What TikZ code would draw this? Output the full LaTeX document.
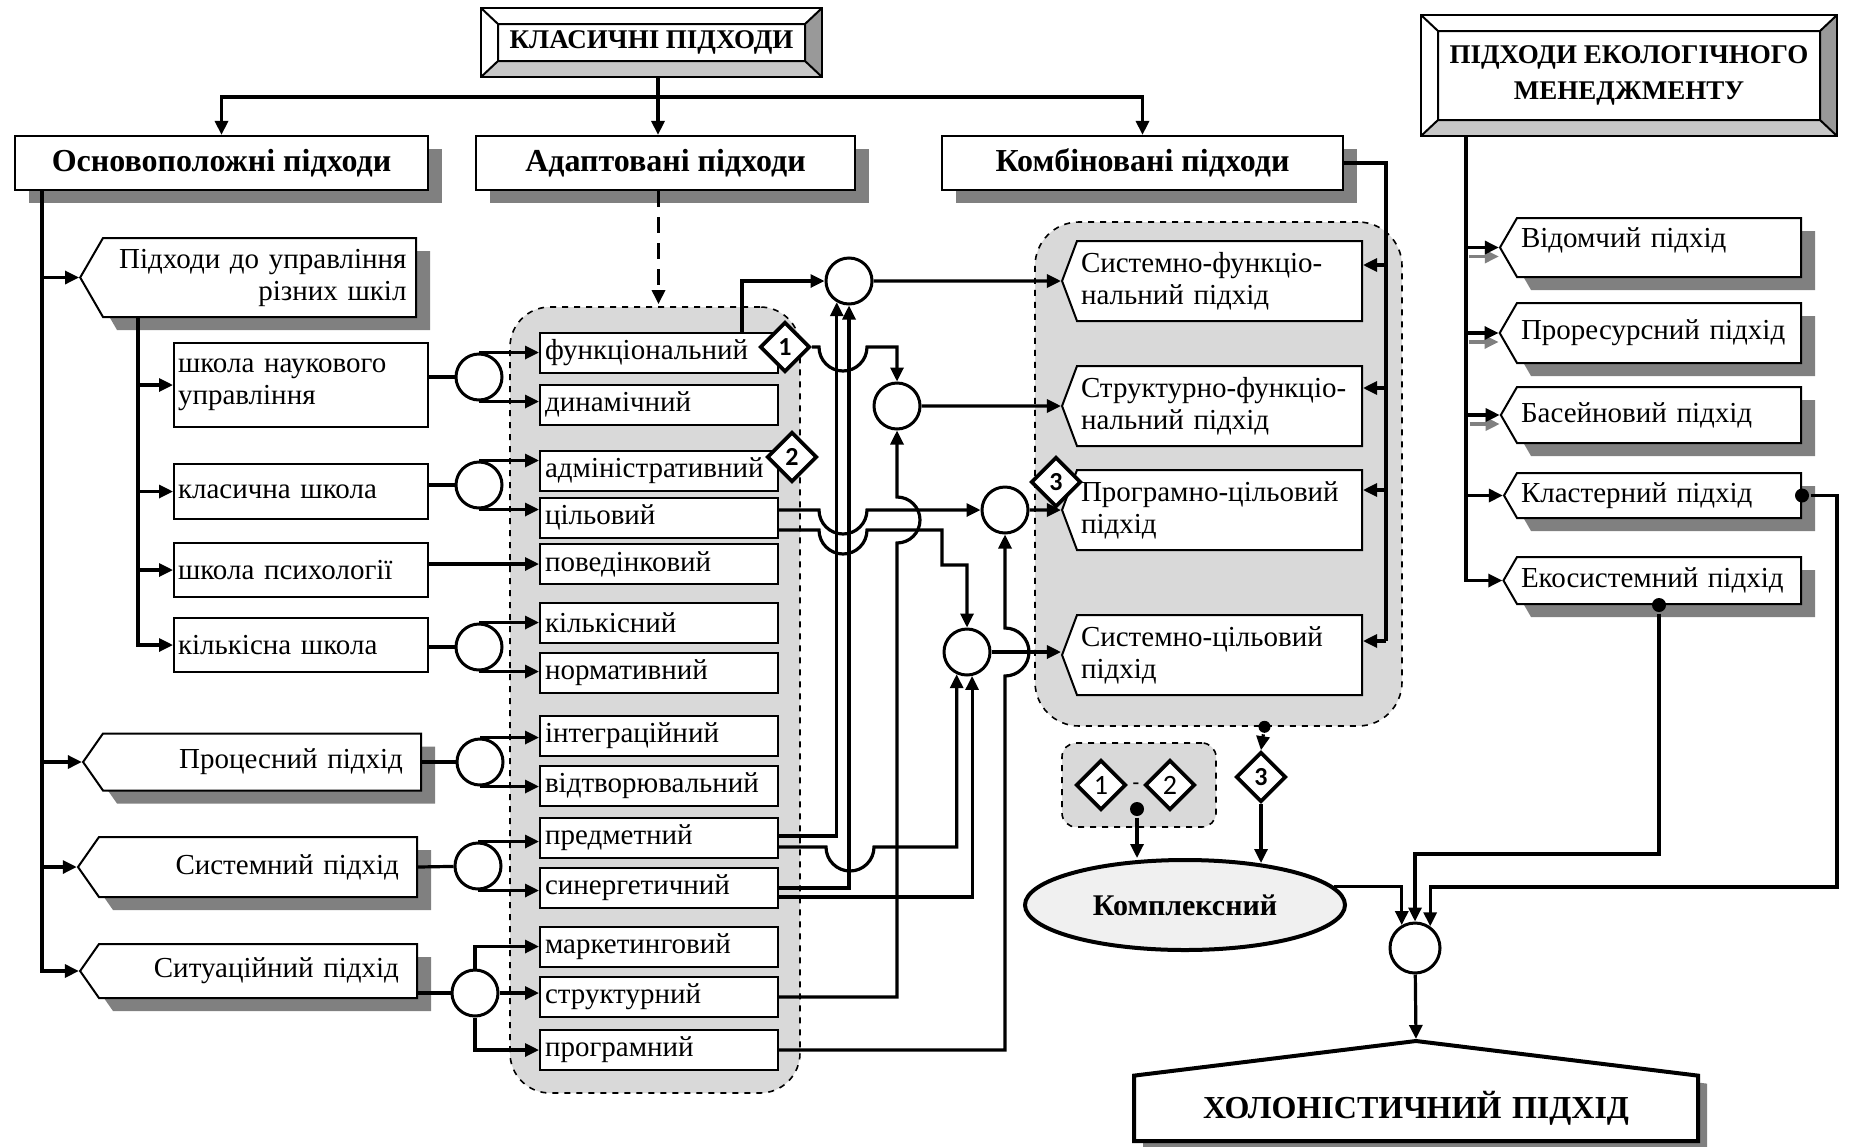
\documentclass[tikz,border=0pt]{standalone}
\usepackage{fontspec}
\setmainfont{Liberation Serif}
\newfontfamily\digitfont{Carlito}
\usepackage{tikz}
\usetikzlibrary{arrows.meta,calc,positioning,shapes.geometric,shapes.symbols,shadows}
\tikzset{%
	grayshadow/.style = {drop shadow={opacity=1, fill=black!50, shadow xshift=7pt, shadow yshift=-6.5pt}},
	bevel/.style      = {draw, rectangle, fill=white, line width=1pt, align=center,
		font=\bfseries\fontsize{13.5}{18}\selectfont,
		path picture={
			\coordinate (bvA) at (path picture bounding box.south west);
			\coordinate (bvB) at (path picture bounding box.north east);
			\coordinate (bvC) at ([shift={(8.5pt,8pt)}]bvA);
			\coordinate (bvD) at ([shift={(-8.5pt,-8pt)}]bvB);
			\fill[black!22] (bvA) -- (bvC) -- (bvC -| bvD) -- (bvA -| bvB) -- cycle;
			\fill[black!40] (bvA -| bvB) -- (bvC -| bvD) -- (bvD) -- (bvB) -- cycle;
			\draw[line width=1pt] (bvC) rectangle (bvD) (bvA) -- (bvC) (bvB) -- (bvD)
				(bvA |- bvB) -- (bvC |- bvD) (bvA -| bvB) -- (bvC -| bvD);
		}},
	block/.style      = {draw, rectangle, fill=white, line width=1.1pt, minimum height=27pt, font=\bfseries\fontsize{16}{18}\selectfont, grayshadow},
	school/.style     = {draw, rectangle, fill=white, line width=1pt, minimum width=127pt, text width=123pt, inner xsep=2pt, align=left},
	sbox/.style       = {draw, rectangle, fill=white, line width=1pt, minimum height=20pt, text width=114pt, inner xsep=2.5pt, inner ysep=0pt, align=left},
	joint/.style      = {draw, circle, fill=white, line width=1.5pt, minimum size=23pt, inner sep=0pt},
	lpent/.style      = {draw, signal, signal to=west, signal pointer angle=110, fill=white, line width=1pt, text width=141pt, inner xsep=9pt, minimum height=28.5pt, align=right, grayshadow},
	kpent/.style      = {draw, signal, signal to=west, signal pointer angle=139, fill=white, line width=1pt, text width=138.5pt, inner xsep=2pt, minimum height=40pt, align=left},
	epent/.style      = {draw, signal, signal to=west, signal pointer angle=120, fill=white, line width=1pt, text width=138pt, inner xsep=2pt, align=left, font=\fontsize{14.5}{16}\selectfont, grayshadow},
	hol/.style        = {draw, signal, signal to=north, signal pointer angle=166, fill=white, line width=2pt, text width=264pt, inner xsep=9pt, minimum height=50pt, align=center,
		font=\bfseries\fontsize{16}{18}\selectfont, drop shadow={opacity=1, fill=black!50, shadow xshift=4.5pt, shadow yshift=-4pt}},
	badge/.style      = {draw, diamond, fill=white, line width=1.8pt, minimum width=25pt, minimum height=25pt, inner sep=0pt, font=\digitfont\bfseries\fontsize{13}{13}\selectfont},
	dashgroup/.style  = {draw, dashed, fill=black!15, line width=0.8pt, rounded corners=20pt},
	blob/.style       = {circle, fill=black, minimum size=7pt, inner sep=0pt},
}

\begin{document}
\begin{tikzpicture}[x=0.5pt, y=-0.5pt, >={Triangle[length=7pt,width=6.5pt]}, line width=1.6pt, font=\fontsize{14.5}{16}\selectfont]
	\useasboundingbox (0,0) rectangle (1852,1146);
	% grey groups
	\node [dashgroup, minimum width=145pt, minimum height=393pt] (agrp) at (655,700) {};
	\node [dashgroup, minimum width=183.5pt, minimum height=252pt, rounded corners=22pt] (kgrp) at (1218.5,474) {};
	\node [dashgroup, minimum width=77pt, minimum height=42pt, rounded corners=7pt] (tgrp) at (1139,785) {};
	
	% headings
	\node [bevel, minimum width=170.5pt, minimum height=34.5pt] (klas) at (651.5,42.5) {КЛАСИЧНІ ПІДХОДИ};
	\node [bevel, minimum width=208pt, minimum height=60.5pt] (ekol) at (1629,75.5) {ПІДХОДИ ЕКОЛОГІЧНОГО\\МЕНЕДЖМЕНТУ};
	\node [block, minimum width=206.5pt] (osn) at (221.5,163) {Основоположні підходи};
	\node [block, minimum width=189.5pt] (adap) at (665.5,163) {Адаптовані підходи};
	\node [block, minimum width=200.5pt] (komb) at (1142.5,163) {Комбіновані підходи};
	
	% left column
	\node [lpent, signal pointer angle=120, minimum height=39.5pt, text width=147pt, inner xsep=4.75pt, anchor=east] (schools) at (417,277.5) {Підходи до управління\\різних шкіл};
	\node [school, minimum height=42pt] (sci) at (301,385) {школа наукового\\управління};
	\node [school, minimum height=27.5pt] (cls) at (301,491.5) {класична школа};
	\node [school, minimum height=27pt] (psy) at (301,570) {школа психології};
	\node [school, minimum height=27pt] (qnt) at (301,645) {кількісна школа};
	\node [lpent, anchor=east] (proc) at (422,762) {Процесний підхід};
	\node [lpent, minimum height=30pt, anchor=east] (sys) at (418,867) {Системний підхід};
	\node [lpent, minimum height=27pt, anchor=east] (sit) at (418,971) {Ситуаційний підхід};
	
	% adapted approaches
	\node [sbox] (func) at (659,353) {функціональний};
	\node [sbox] (dyn) at (659,404.5) {динамічний};
	\node [sbox] (adm) at (659,471) {адміністративний};
	\node [sbox] (cil) at (659,517.5) {цільовий};
	\node [sbox] (pov) at (659,564) {поведінковий};
	\node [sbox] (kil) at (659,622.5) {кількісний};
	\node [sbox] (nor) at (659,673) {нормативний};
	\node [sbox] (integ) at (659,735.5) {інтеграційний};
	\node [sbox] (vidt) at (659,786) {відтворювальний};
	\node [sbox] (pre) at (659,838) {предметний};
	\node [sbox] (syn) at (659,888) {синергетичний};
	\node [sbox] (mar) at (659,946.5) {маркетинговий};
	\node [sbox] (str) at (659,997) {структурний};
	\node [sbox] (prg) at (659,1050) {програмний};
	
	\node [joint] (s1) at (479,377) {};
	\node [joint] (s2) at (479,485) {};
	\node [joint] (s3) at (479,647) {};
	\node [joint] (s4) at (480,762) {};
	\node [joint] (s5) at (478,866) {};
	\node [joint] (s6) at (475,993) {};
	
	\node [joint] (c1) at (849,281) {};
	\node [joint] (c2) at (897,406) {};
	\node [joint] (c3) at (1005,510) {};
	\node [joint] (c4) at (967,652) {};
	\node [joint, minimum size=25pt] (c5) at (1415,948) {};
	
	% combined approaches
	\node [kpent, anchor=east] (sf) at (1363,281) {Системно-функціо-\\нальний підхід};
	\node [kpent, anchor=east] (stf) at (1363,406) {Структурно-функціо-\\нальний підхід};
	\node [kpent, anchor=east] (pc) at (1363,510) {Програмно-цільовий\\підхід};
	\node [kpent, anchor=east] (sc) at (1363,655) {Системно-цільовий\\підхід};
	
	% ecological approaches
	\node [epent, minimum height=29.5pt, text depth=10pt, anchor=east] (vidom) at (1802,247.5) {Відомчий підхід};
	\node [epent, minimum height=30pt, anchor=east] (pror) at (1802,333) {Проресурсний підхід};
	\node [epent, minimum height=28pt, anchor=east] (bas) at (1802,415) {Басейновий підхід};
	\node [epent, minimum height=22.5pt, anchor=east] (klast) at (1802,495.5) {Кластерний підхід};
	\node [epent, minimum height=23.5pt, anchor=east] (ekos) at (1802,580.5) {Екосистемний підхід};
	
	\node [draw, ellipse, fill=black!6, line width=2pt, minimum width=160pt, minimum height=45pt, inner sep=0pt, font=\bfseries\fontsize{15}{17}\selectfont] (kom) at (1185,905) {Комплексний};
	\node [hol, anchor=south] (hol) at (1416,1143) {ХОЛОНІСТИЧНИЙ ПІДХІД};
	
	% markers
	\node [badge] (d1) at (785,347) {1};
	\node [badge] (d2) at (792,457) {2};
	\node [badge] (d3) at (1056,482) {3};
	\node [badge] (d3b) at (1261,777) {3};
	\node [badge, font=\digitfont\fontsize{14}{14}\selectfont] (e1) at (1101,785) {1};
	\node [badge, font=\digitfont\fontsize{14}{14}\selectfont] (e2) at (1170,785) {2};
	\node [font=\bfseries] (sep) at (1136,786) {-};
	\node [blob, minimum size=6pt] (kdot) at ([xshift=23pt]kgrp.south) {};
	\node [blob] (tdot) at (1137,809) {};
	\node [blob] (ldot) at (klast.east) {};
	\node [blob] (edot) at (ekos.south) {};
	
	% top level
	\coordinate (hub) at (658,97);
	\draw (klas.south -| hub) -- (hub);
	\draw[->] (hub) -| (osn.north);
	\draw[->] (hub) -- (hub |- adap.north);
	\draw[->] (hub) -| (komb.north);
	\draw[->, dash pattern=on 8pt off 5pt] ([xshift=-3.5pt]adap.south) -- ++(0,113);
	
	% left trunk
	\coordinate (lt) at ([xshift=14pt]osn.south west);
	\draw[->] (lt) |- (sit.west);
	\draw[->] (lt |- schools.west) -- (schools.west);
	\draw[->] (lt |- proc.west) -- (proc.west);
	\draw[->] (lt |- sys.west) -- (sys.west);
	\coordinate (st) at (schools.south -| 138,0);
	\draw[->] (st) |- (qnt.west);
	\draw[->] (st |- sci.west) -- (sci.west);
	\draw[->] (st |- cls.west) -- (cls.west);
	\draw[->] (st |- psy.west) -- (psy.west);
	
	% schools to adapted approaches
	\draw (s1 -| sci.east) -- (s1);
	\draw[->] (s1.north) -- (s1.north -| func.west);
	\draw[->] (s1.south) -- (s1.south -| dyn.west);
	\draw (s2 -| cls.east) -- (s2);
	\draw[->] (s2.north) -- (s2.north -| adm.west);
	\draw[->] (s2.south) -- (s2.south -| cil.west);
	\draw[->] (psy.east |- pov) -- (pov.west);
	\draw (s3 -| qnt.east) -- (s3);
	\draw[->] (s3.north) -- (s3.north -| kil.west);
	\draw[->] (s3.south) -- (s3.south -| nor.west);
	\draw (proc.east) -- (s4);
	\draw[->] (s4.north) -- (s4.north -| integ.west);
	\draw[->] (s4.south) -- (s4.south -| vidt.west);
	\draw (sys.east) -- (s5);
	\draw[->] (s5.north) -- (s5.north -| pre.west);
	\draw[->] (s5.south) -- (s5.south -| syn.west);
	\draw (s6 -| sit.east) -- (s6);
	\draw[->] (s6.north) |- (mar.west);
	\draw[->] (s6.east) -- (s6 -| str.west);
	\draw[->] (s6.south) |- (prg.west);
	
	% crossing wires
	\draw[->] ([xshift=-18.5pt]func.north east) |- (c1);
	\draw[->] (d1.east) -- (819,347) arc[start angle=180, end angle=0, radius=24] -| (c2.north);
	\draw[->] ([yshift=3.75pt]cil.east) -- (819,510) arc[start angle=180, end angle=0, radius=24] -- (c3);
	\draw[->] ([yshift=-6.25pt]cil.east) -- (819,530) arc[start angle=180, end angle=0, radius=24] -- (942,530) -- (942,565) -| (c4.north);
	\draw[->] ([yshift=1pt]pre.east) -| (c1.240);
	\draw[->] (syn.east) -| (c1.south);
	\draw[->] ([yshift=-4.5pt]pre.east) -- (826,847) arc[start angle=180, end angle=0, radius=24] -| (c4.245);
	\draw[->] ([yshift=-4.5pt]syn.east) -| (c4.282);
	\draw[->] (str.east) -| (897,543) arc[start angle=90, end angle=-90, radius=23] -- (c2.south);
	\draw[->] (prg.east) -| (1005,676) arc[start angle=90, end angle=-90, radius=24] -- (c3.south);
	
	\draw[->] (c1) -- (sf);
	\draw[->] (c2) -- (stf);
	\draw[->] (c3) -- (pc);
	\draw[->] (c4.east) -- (c4.east -| sc.west);
	
	% combined rail
	\coordinate (kr) at (1386,163);
	\coordinate (sfin) at ([yshift=8pt]sf.east);
	\coordinate (stfin) at ([yshift=9pt]stf.east);
	\coordinate (pcin) at ([yshift=10pt]pc.east);
	\coordinate (scin) at ([yshift=7pt]sc.east);
	\draw (komb.east) -- (kr) -- (kr |- scin);
	\draw[->] (kr |- sfin) -- (sfin);
	\draw[->] (kr |- stfin) -- (stfin);
	\draw[->] (kr |- pcin) -- (pcin);
	\draw[->] (kr |- scin) -- (scin);
	
	% ecological rail
	\coordinate (er) at ([xshift=23pt]ekol.south west);
	\draw[->, black!50] ([shift={(-15pt,-4.5pt)}]vidom.west) -- ([yshift=-4.5pt]vidom.west);
	\draw[->, black!50] ([shift={(-15pt,-4.5pt)}]pror.west) -- ([yshift=-4.5pt]pror.west);
	\draw[->, black!50] ([shift={(-15pt,-4.5pt)}]bas.west) -- ([yshift=-4.5pt]bas.west);
	\draw[->] (er) |- (ekos.west);
	\draw[->] (er |- vidom.west) -- (vidom.west);
	\draw[->] (er |- pror.west) -- (pror.west);
	\draw[->] (er |- bas.west) -- (bas.west);
	\draw[->] (er |- klast.west) -- (klast.west);
	
	% bottom part
	\draw[->] (kdot) -- (d3b.north);
	\draw[->] (d3b.south) -- ([yshift=-2.5pt]d3b.south |- kom.north);
	\draw[->] (tdot) -- (tdot |- kom.north);
	\draw[->] (kom.7) -| (c5.120);
	\draw[->] (edot) -- ++(0,249) -| (c5.north);
	\draw[->] (ldot) -| (1837,887) -| (c5.55);
	\draw[->] (c5) -- (hol.north);
\end{tikzpicture}
\end{document}
